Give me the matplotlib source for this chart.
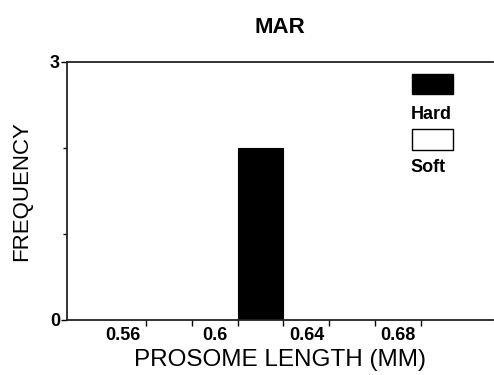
import matplotlib
matplotlib.use("Agg")
import matplotlib.pyplot as plt
from matplotlib.patches import Rectangle
from matplotlib.ticker import FixedLocator, NullFormatter

# ---- data ----
title = "MAR"
bin_edges = [0.57, 0.59, 0.61, 0.63, 0.65, 0.67, 0.69]
hard_counts = [0, 0, 2, 0, 0, 0]
soft_counts = [0, 0, 0, 0, 0, 0]
x_tick_labels = [0.56, 0.6, 0.64, 0.68]
y_ticks = [0, 3]
y_minor = [1, 2]
x_label = "PROSOME LENGTH (MM)"
y_label = "FREQUENCY"
legend_labels = ["Hard", "Soft"]

plt.rcParams['font.family'] = ['Liberation Sans', 'DejaVu Sans']

fig = plt.figure(figsize=(4.94, 3.75), dpi=100)
ax = fig.add_axes([0.1356, 0.1467, 0.8624, 0.688])

lefts = bin_edges[:-1]
widths = [b - a for a, b in zip(bin_edges[:-1], bin_edges[1:])]
hl = [l for l, c in zip(lefts, hard_counts) if c > 0]
hw = [w for w, c in zip(widths, hard_counts) if c > 0]
hc = [c for c in hard_counts if c > 0]
ax.bar(hl, hc, width=hw, align='edge', color='black', edgecolor='black', linewidth=0.8)
sl = [l for l, c in zip(lefts, soft_counts) if c > 0]
sw = [w for w, c in zip(widths, soft_counts) if c > 0]
sc = [c for c in soft_counts if c > 0]
if sc:
    ax.bar(sl, sc, width=sw, align='edge', color='white', edgecolor='black', linewidth=0.8)

ax.set_xlim(0.5357, 0.7213)
ax.set_ylim(0, 3)

for s in ['left', 'bottom', 'top']:
    ax.spines[s].set_linewidth(1.3)
    ax.spines[s].set_color('#222222')
ax.spines['right'].set_visible(False)

ax.set_xticks(x_tick_labels)
ax.set_xticklabels([f"{v:g}" for v in x_tick_labels], fontsize=13, fontweight='bold')
ax.xaxis.set_minor_locator(FixedLocator(bin_edges))
ax.xaxis.set_minor_formatter(NullFormatter())
ax.tick_params(axis='x', which='major', length=0, pad=5)
ax.tick_params(axis='x', which='minor', length=4, width=1.0, direction='out')

ax.set_yticks(y_ticks)
ax.set_yticklabels([str(v) for v in y_ticks], fontsize=13, fontweight='bold')
ax.yaxis.set_minor_locator(FixedLocator(y_minor))
ax.tick_params(axis='y', which='major', length=4, width=1.0, direction='out', pad=1)
ax.tick_params(axis='y', which='minor', length=3, width=1.0, direction='out')

ax.set_xlabel(x_label, fontsize=17.5, labelpad=4)
ax.set_ylabel(y_label, fontsize=16, labelpad=13)
ax.set_title(title, fontsize=16, fontweight='bold', pad=21)

# legend (handles above labels)
tr = ax.transAxes
ax.add_patch(Rectangle((0.81, 0.875), 0.097, 0.078, transform=tr, facecolor='black',
                       edgecolor='black', lw=1, clip_on=False))
ax.text(0.806, 0.795, legend_labels[0], transform=tr, fontsize=13, fontweight='bold',
        ha='left', va='center')
ax.add_patch(Rectangle((0.81, 0.66), 0.097, 0.08, transform=tr, facecolor='white',
                       edgecolor='black', lw=1, clip_on=False))
ax.text(0.806, 0.59, legend_labels[1], transform=tr, fontsize=13, fontweight='bold',
        ha='left', va='center')

fig.savefig("out.png", dpi=100)
